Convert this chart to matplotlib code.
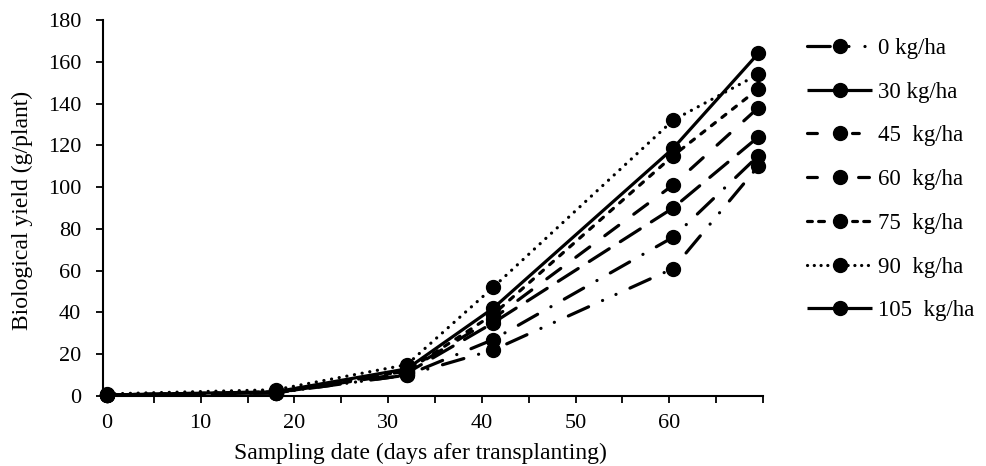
import matplotlib
matplotlib.use("Agg")
import matplotlib.pyplot as plt
from matplotlib.lines import Line2D
from matplotlib.ticker import MultipleLocator

plt.rcParams['font.family'] = ['Liberation Serif', 'DejaVu Serif']
plt.rcParams['lines.scale_dashes'] = False

days = [0, 18, 32, 41.2, 60.4, 69.5]
labels = ["0 kg/ha", "30 kg/ha", "45  kg/ha", "60  kg/ha", "75  kg/ha", "90  kg/ha", "105  kg/ha"]
y_0 = [0.5, 1.5, 10, 22, 61, 110]
y_30 = [0.5, 1.5, 10, 27, 76, 115]
y_45 = [0.5, 1.5, 11, 35, 90, 124]
y_60 = [0.5, 1.5, 12, 37, 101, 138]
y_75 = [0.5, 2, 12, 39, 115, 147]
y_90 = [1, 3, 15, 52, 132, 154]
y_105 = [0.5, 2, 13, 42, 118.5, 164]
series = [y_0, y_30, y_45, y_60, y_75, y_90, y_105]

# dash patterns in the plot area (points)
styles = [
    (0, (16, 11, 0.1, 10.5, 0.1, 11)),
    (0, (16, 11, 0.1, 11)),
    (0, (17, 9.5)),
    (0, (12.5, 13.5)),
    (0, (3.6, 6)),
    (0, (0.1, 5.5)),
    '-',
]
# how each pattern appears in the short legend sample
legend_styles = [
    (0, (16.4, 13.4, 0.07, 11.5, 0.07, 36)),
    '-',
    (0, (7.1, 25.3, 4.9, 36)),
    (0, (7.1, 29.7, 7.8, 14.4)),
    (0, (3.5, 4.5, 4.2, 20.3, 3.5, 4.5, 4.2, 14.4)),
    (0, (0.07, 4.8)),
    '-',
]

fig = plt.figure(figsize=(9.87, 4.66), dpi=100)
ax = fig.add_axes([107/987, 70/466, 656/987, 376/466])

common = dict(color='black', lw=2.3, marker='o', markersize=10,
              markerfacecolor='black', markeredgecolor='black',
              dash_capstyle='round', solid_capstyle='butt')

for ys, lab, ls in zip(series, labels, styles):
    ax.plot(days, ys, linestyle=ls, label=lab, clip_on=False, **common)

handles = [Line2D([], [], linestyle=ls, **common) for ls in legend_styles]

ax.set_xlim(0, 70)
ax.set_ylim(0, 180)
ax.set_xticks([0, 10, 20, 30, 40, 50, 60])
ax.xaxis.set_minor_locator(MultipleLocator(5))
ax.yaxis.set_major_locator(MultipleLocator(20))
ax.tick_params(axis='both', which='both', direction='out', length=5, width=1.3,
               labelsize=16, color='black')
ax.tick_params(axis='x', which='major', pad=8)
ax.tick_params(axis='y', which='major', pad=10.5)
for s in ['top', 'right']:
    ax.spines[s].set_visible(False)
for s in ['left', 'bottom']:
    ax.spines[s].set_linewidth(1.5)
ax.spines['left'].set_position(('outward', 3))
ax.spines['bottom'].set_bounds(0, 70)

fig.text(420/987, 1 - 453/466, "Sampling date (days afer transplanting)",
         ha='center', va='center', fontsize=17)
fig.text(22/987, 1 - 210/466, "Biological yield (g/plant)", rotation=90,
         ha='center', va='center', fontsize=17)

ax.legend(handles, labels, loc='upper left', bbox_to_anchor=(807/987, 1 - 38/466),
          bbox_transform=fig.transFigure, frameon=False, fontsize=16.5,
          handlelength=2.84, handletextpad=0.26, labelspacing=0.99,
          borderaxespad=0, borderpad=0)

fig.savefig("out.png", dpi=100)
